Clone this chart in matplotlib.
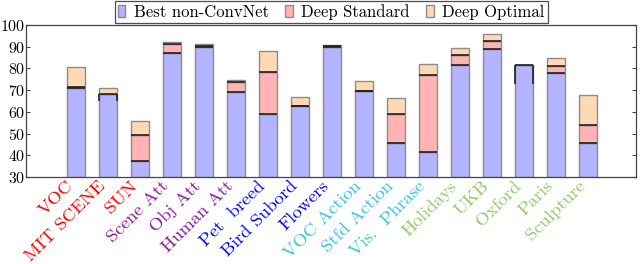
import matplotlib
matplotlib.use("Agg")
import matplotlib.pyplot as plt
from matplotlib.patches import Patch
import numpy as np

plt.rcParams['font.family'] = ['cmr10', 'DejaVu Serif']
plt.rcParams['mathtext.fontset'] = 'cm'
plt.rcParams['axes.formatter.use_mathtext'] = True

categories = ["VOC", "MIT SCENE", "SUN", "Scene Att", "Obj Att", "Human Att",
              "Pet  breed", "Bird Subord", "Flowers", "VOC Action", "Stfd Action",
              "Vis.  Phrase", "Holidays", "UKB", "Oxford", "Paris", "Sculpture"]
label_colors = ["#ff0000"] * 3 + ["#8b1a9b"] * 3 + ["#0000ff"] * 3 + \
               ["#33c5e0"] * 3 + ["#8fcc6a"] * 5

best_non_convnet = [70.8, 68.2, 37.4, 87.3, 90.0, 69.0, 59.2, 62.5, 89.9,
                    69.5, 45.7, 41.5, 81.8, 89.2, 81.5, 78.0, 45.5]
deep_standard = [71.6, 64.8, 49.5, 91.1, 90.3, 73.9, 78.4, 62.7, 90.3,
                 69.7, 58.8, 77.2, 86.0, 92.5, 73.0, 81.0, 53.8]
deep_optimal = [80.5, 71.2, 55.9, 92.1, 91.3, 74.5, 88.0, 66.8, 90.8,
                74.3, 66.2, 82.1, 89.6, 96.0, 81.5, 85.0, 67.6]

legend_labels = ["Best non-ConvNet", "Deep Standard", "Deep Optimal"]
c_blue, c_red, c_orange = "#b3b3ff", "#ffb3b3", "#ffd9b3"
edge = "#8c8c8c"

fig = plt.figure(figsize=(6.4, 2.64), dpi=100)
ax = fig.add_axes([0.041, 0.330, 0.953, 0.575])

x = np.arange(len(categories))
w = 0.56
base = 30
best = np.array(best_non_convnet)
std = np.array(deep_standard)
opt = np.array(deep_optimal)

# blue segment
ax.bar(x, best - base, w, bottom=base, color=c_blue, edgecolor=edge, linewidth=1.0, zorder=2)
# red segment (only where standard above best)
red_top = np.maximum(std, best)
ax.bar(x, red_top - best, w, bottom=best, color=c_red, edgecolor=edge, linewidth=1.0, zorder=2)
# orange segment
or_bottom = red_top
ax.bar(x, np.maximum(opt - or_bottom, 0), w, bottom=or_bottom, color=c_orange,
       edgecolor=edge, linewidth=1.0, zorder=2)

# black marker lines at segment tops
ax.hlines(best, x - w / 2, x + w / 2, colors="#222222", linewidth=1.2, zorder=3)
mask = std > best
ax.hlines(std[mask], x[mask] - w / 2, x[mask] + w / 2, colors="#222222", linewidth=1.2, zorder=3)
lo = ~mask
ax.vlines(x[lo] - w / 2, std[lo], best[lo], colors="#222222", linewidth=1.2, zorder=3)
ax.vlines(x[lo] + w / 2, std[lo], best[lo], colors="#222222", linewidth=1.2, zorder=3)

ax.set_xlim(-1.55, 17.5)
ax.set_ylim(30, 100)
ax.set_yticks(np.arange(30, 101, 10))
ax.tick_params(axis='y', direction='in', right=True, left=True, labelsize=11.5,
               length=3, color="#444444", pad=0.5)
ax.set_xticks(x)
ax.set_xticklabels(categories, rotation=45, ha='right', fontsize=13.4)
ax.tick_params(axis='x', length=0, pad=1)
for lab, c in zip(ax.get_xticklabels(), label_colors):
    lab.set_color(c)
for s in ax.spines.values():
    s.set_color("#444444")
    s.set_linewidth(0.9)

handles = [Patch(facecolor=c, edgecolor=edge, linewidth=1.0) for c in (c_blue, c_red, c_orange)]
leg = ax.legend(handles, legend_labels, loc='lower center', bbox_to_anchor=(0.50, 0.995),
                ncol=3, fontsize=12, frameon=True, fancybox=False, borderaxespad=0.15,
                handlelength=0.45, handleheight=0.75, handletextpad=0.5, columnspacing=1.0,
                borderpad=0.2)
leg.get_frame().set_edgecolor("#222222")
leg.get_frame().set_linewidth(0.9)

fig.savefig("out.png", dpi=100)
